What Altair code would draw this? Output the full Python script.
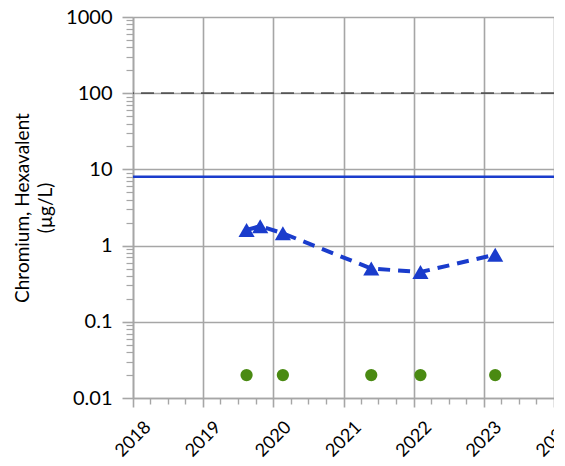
import altair as alt
import pandas as pd

# Hexavalent chromium results (µg/L)
dates = ["2019-08-15", "2019-10-25", "2020-02-20", "2021-05-25", "2022-02-05", "2023-03-01"]
values = [1.6, 1.8, 1.45, 0.5, 0.45, 0.76]

# Non-detect / reporting-limit markers
nd_dates = ["2019-08-15", "2020-02-20", "2021-05-25", "2022-02-05", "2023-03-01"]
nd_values = [0.02, 0.02, 0.02, 0.02, 0.02]

# Reference levels
solid_level = [8]
dashed_level = [100]

year_ticks = [2018, 2019, 2020, 2021, 2022, 2023, 2024]
y_ticks = [0.01, 0.1, 1, 10, 100, 1000]
y_minor = [m * 10 ** e for e in range(-2, 3) for m in range(2, 10)]

df = pd.DataFrame({"date": dates, "value": values})
nd = pd.DataFrame({"date": nd_dates, "value": nd_values})
lv1 = pd.DataFrame({"value": solid_level})
lv2 = pd.DataFrame({"value": dashed_level})

FONT = "Lato"
GRID = "#a6a6a6"
BLUE = "#1a3ccc"
GREEN = "#4a8a12"

x_major = [alt.DateTime(year=y, month=1, date=1) for y in year_ticks]
x_minor = [alt.DateTime(year=y, month=m, date=1) for y in year_ticks[:-1] for m in (4, 7, 10)]

xscale = alt.Scale(domain=[alt.DateTime(year=2018, month=1, date=1),
                           alt.DateTime(year=2024, month=1, date=1)], nice=False)
yscale = alt.Scale(type="log", domain=[0.01, 1000], nice=False)

x_axis = alt.Axis(values=x_major, format="%Y", labelAngle=-45, labelAlign="center",
                  labelBaseline="middle", labelFontSize=18, labelFont=FONT, labelColor="black",
                  grid=True, gridColor=GRID, gridWidth=1.6, domainColor=GRID, domainWidth=1.6,
                  tickColor=GRID, tickWidth=1.6, tickSize=9, labelPadding=32, title=None,
                  orient="bottom", labelOverlap=False, labelBound=False, labelFlush=False)
y_axis = alt.Axis(values=y_ticks, format="~g", labelFontSize=20, labelFont=FONT,
                  labelColor="black", grid=True, gridColor=GRID, gridWidth=1.6,
                  domainColor=GRID, domainWidth=1.6, tickColor=GRID, tickWidth=1.6,
                  tickSize=11, labelPadding=10, orient="left", labelOverlap=False,
                  title=["Chromium, Hexavalent", "(µg/L)"], titleFont=FONT,
                  titleFontSize=19, titleFontWeight="normal", titleColor="black",
                  titlePadding=10, titleLineHeight=23)

base_x = alt.X("date:T", scale=xscale, axis=x_axis)
base_y = alt.Y("value:Q", scale=yscale, axis=y_axis)

line = alt.Chart(df).mark_line(color=BLUE, strokeWidth=4, strokeDash=[12, 8]).encode(
    x=base_x, y=base_y)
tri = alt.Chart(df).mark_point(shape="triangle-up", filled=True, opacity=1, color=BLUE,
                               size=260).encode(x="date:T", y="value:Q")
dots = alt.Chart(nd).mark_circle(color=GREEN, opacity=1, size=150).encode(
    x="date:T", y="value:Q")
rule1 = alt.Chart(lv1).mark_rule(color=BLUE, strokeWidth=2.5).encode(y="value:Q")
rule2 = alt.Chart(lv2).mark_rule(color="#555555", strokeWidth=1.8,
                                 strokeDash=[13, 7]).encode(y="value:Q")

# Minor ticks via extra axes
minor_df = pd.DataFrame({"date": ["2020-01-01"], "value": [1]})
minor = alt.Chart(minor_df).mark_point(opacity=0).encode(
    x=alt.X("date:T", scale=xscale,
            axis=alt.Axis(values=x_minor, labels=False, grid=False, domain=False,
                          tickColor=GRID, tickWidth=1.4, tickSize=6, title=None,
                          orient="bottom")),
    y=alt.Y("value:Q", scale=yscale,
            axis=alt.Axis(values=y_minor, labels=False, grid=False, domain=False,
                          tickColor=GRID, tickWidth=1.2, tickSize=7, title=None,
                          orient="left")),
)

main = alt.layer(rule2, rule1, line, tri, dots)
chart = alt.layer(main, minor).resolve_axis(x="independent", y="independent").properties(
    width=421, height=381,
    autosize=alt.AutoSizeParams(type="none"),
    padding={"left": 125, "top": 9, "right": 0, "bottom": 68},
).configure_view(stroke=None).configure(background="white")

chart.save("out.html", embed_options={"renderer": "svg", "actions": False})
